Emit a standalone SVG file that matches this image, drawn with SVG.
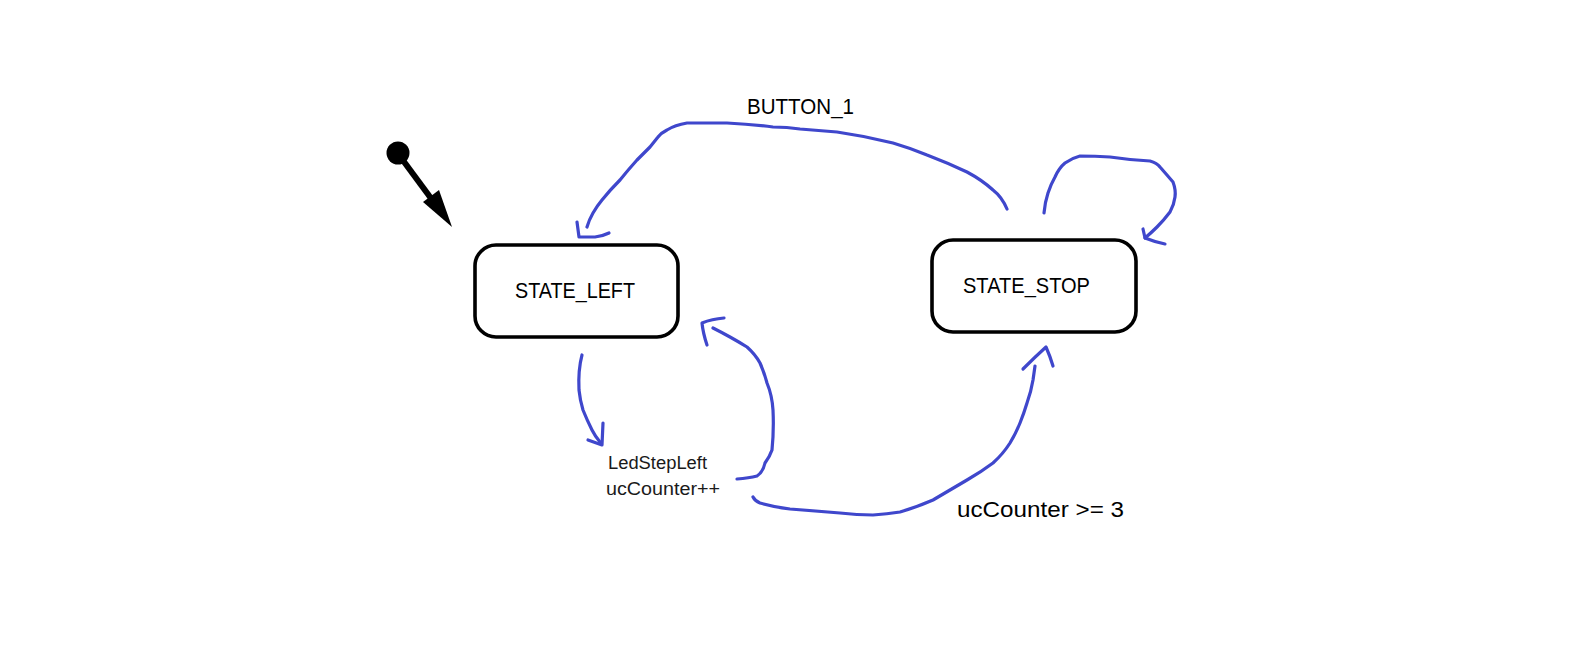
<svg xmlns="http://www.w3.org/2000/svg" width="1596" height="672" viewBox="0 0 1596 672">
  <style>
    .state { fill: #ffffff; stroke: #000000; stroke-width: 3.6; }
    .lbl { font-family: "Liberation Sans", Arial, sans-serif; font-size: 22px; fill: #000000; }
    .small { font-family: "Liberation Sans", Arial, sans-serif; font-size: 18px; fill: #1a1a1a; }
    .ink { fill: none; stroke: #3f47cc; stroke-width: 3.2; stroke-linecap: round; stroke-linejoin: round; }
  </style>
  <rect width="1596" height="672" fill="#ffffff"/>

  <g id="initial">
    <circle cx="398" cy="153" r="11.5" fill="#000000"/>
    <line x1="399" y1="155" x2="433" y2="201" stroke="#000000" stroke-width="6"/>
    <polygon points="423,202 439,190 452,227" fill="#000000"/>
  </g>

  <g id="state_left">
    <rect class="state" x="475" y="245" width="203" height="92" rx="21"/>
    <text class="lbl" x="515" y="298" textLength="120" lengthAdjust="spacingAndGlyphs">STATE_LEFT</text>
  </g>

  <g id="state_stop">
    <rect class="state" x="932" y="240" width="204" height="92" rx="21"/>
    <text class="lbl" x="963" y="293" textLength="127" lengthAdjust="spacingAndGlyphs">STATE_STOP</text>
  </g>

  <g id="connectors">
    <!-- BUTTON_1: STATE_STOP -> STATE_LEFT -->
    <path class="ink" d="M1007,209 Q1002,197 993,190 Q982,180 967,172 Q948,163 927,155 Q910,148 893,143 Q865,136 837,132 L800,129 Q787,127 773,127 Q750,124 727,123 L687,123 Q675,125 667,130 Q661,133 658,137 Q654,142 650,147 L637,160 Q628,170 620,180 Q610,190 602,200 Q597,206 593,213 Q589,220 587,227"/>
    <path class="ink" d="M577,222 L579,237 L595,237 Q603,236 609,233"/>

    <!-- self loop on STATE_STOP -->
    <path class="ink" d="M1044,213 Q1045,202 1048,193 Q1051,184 1055,177 Q1059,168 1065,163 Q1072,158 1080,156 Q1095,156 1110,157 Q1130,160 1150,161 Q1157,163 1160,167 Q1167,175 1173,182 Q1176,190 1175,197 Q1174,205 1170,212 Q1164,220 1157,227 Q1151,233 1145,238"/>
    <path class="ink" d="M1143,229 L1145,238 Q1155,242 1165,244"/>

    <!-- STATE_LEFT down to action -->
    <path class="ink" d="M582,355 Q578,370 579,390 Q580,400 583,410 Q587,420 592,430 Q595,436 600,442"/>
    <path class="ink" d="M603,423 L602,445 L588,440"/>

    <!-- action back to STATE_LEFT -->
    <path class="ink" d="M737,479 Q749,478 757,476 Q763,472 765,463 Q770,456 772,450 Q774,430 773,410 Q772,395 767,383 Q764,372 760,363 Q755,354 747,347 Q739,342 730,337 Q721,332 713,328"/>
    <path class="ink" d="M707,345 Q703,333 702,323 Q712,319 724,318"/>

    <!-- ucCounter >= 3: action -> STATE_STOP -->
    <path class="ink" d="M753,497 Q755,501 760,503 Q774,507 790,509 Q815,511 840,513 Q857,515 873,515 Q887,514 900,512 Q917,507 933,500 Q950,490 967,480 Q981,472 993,463 Q1003,454 1010,443 Q1016,433 1020,423 Q1024,413 1027,403 Q1031,392 1033,380 Q1034,373 1035,366"/>
    <path class="ink" d="M1023,369 Q1035,357 1046,347 Q1050,356 1053,366"/>
  </g>

  <g id="labels">
    <text class="lbl" x="747" y="114" textLength="107" lengthAdjust="spacingAndGlyphs">BUTTON_1</text>
    <text class="small" x="608" y="469" textLength="99" lengthAdjust="spacingAndGlyphs">LedStepLeft</text>
    <text class="small" x="606" y="495" textLength="114" lengthAdjust="spacingAndGlyphs">ucCounter++</text>
    <text class="lbl" x="957" y="517" textLength="167" lengthAdjust="spacingAndGlyphs">ucCounter &gt;= 3</text>
  </g>
</svg>
